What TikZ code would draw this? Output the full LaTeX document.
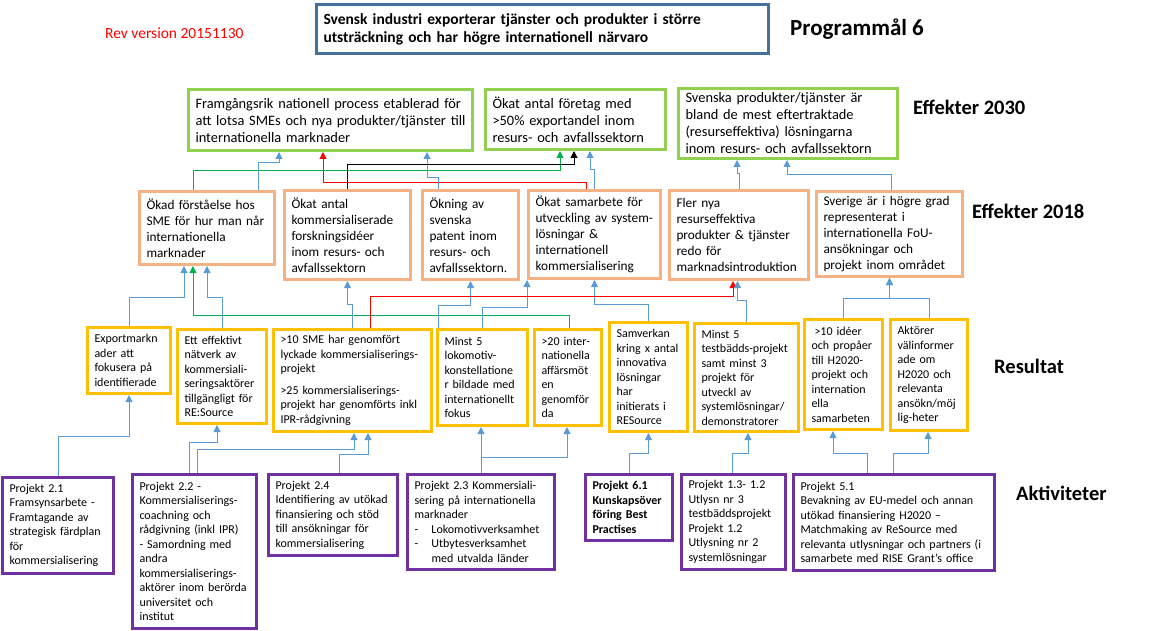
\documentclass[tikz,border=0pt]{standalone}
\usepackage{fontspec}
\setmainfont{Carlito}
\usepackage{tikz}
\usetikzlibrary{arrows.meta}
\definecolor{goalblue}{HTML}{41719C}
\definecolor{effgreen}{HTML}{92D050}
\definecolor{efforange}{HTML}{F4B183}
\definecolor{resgold}{HTML}{FFC000}
\definecolor{aktpurple}{HTML}{7030A0}
\definecolor{linkblue}{HTML}{5B9BD5}
\definecolor{linkgreen}{HTML}{00B050}
\hyphenpenalty=10000
\exhyphenpenalty=10000

\begin{document}
\begin{tikzpicture} [x=1pt, y=-1pt,
    box/.style={draw, line width=3pt, anchor=north west, align=left, inner xsep=7pt, inner ysep=1pt},
    goal/.style={box, draw=goalblue, font=\bfseries\fontsize{15.5}{18}\selectfont},
    eff30/.style={box, draw=effgreen, font=\fontsize{14.4}{17}\selectfont},
    eff18/.style={box, draw=efforange, font=\fontsize{13.3}{16}\selectfont},
    res/.style={box, draw=resgold, font=\fontsize{12}{14.5}\selectfont},
    akt/.style={box, draw=aktpurple, font=\fontsize{12}{14.5}\selectfont},
    lbl/.style={anchor=west, inner sep=0pt, font=\bfseries\fontsize{20.5}{24}\selectfont},
    link/.style={draw=linkblue, line width=1pt, -{Triangle[width=7pt,length=7pt]}}]

        \useasboundingbox (0,0) rectangle (1162,631);

        \node (rev) [anchor=west, inner sep=0pt, text=red, font=\fontsize{15.5}{18}\selectfont] at (105,33) {Rev version 20151130};
        \node (goal) [goal, minimum width=452pt, minimum height=49pt, text width=438pt] at (315,3)
            {Svensk industri exporterar tjänster och produkter i större\\utsträckning och har högre internationell närvaro};
        \node (pm6) [lbl, font=\bfseries\fontsize{23}{26}\selectfont] at (790,29) {Programmål 6};

        \node (g1) [eff30, minimum width=284pt, minimum height=61pt, text width=270pt] at (187,88)
            {Framgångsrik nationell process etablerad för\\att lotsa SMEs och nya produkter/tjänster till\\internationella marknader};
        \node (g2) [eff30, minimum width=180pt, minimum height=60pt, text width=166pt] at (484,88)
            {Ökat antal företag med\\>50\% exportandel inom\\resurs- och avfallssektorn};
        \node (g3) [eff30, minimum width=219pt, minimum height=70pt, text width=205pt] at (677,87)
            {Svenska produkter/tjänster är\\bland de mest eftertraktade\\(resurseffektiva) lösningarna\\inom resurs- och avfallssektorn};
        \node (l30) [lbl] at (913,107) {Effekter 2030};

        \node (o1) [eff18, minimum width=135pt, minimum height=73pt, text width=121pt] at (138,190)
            {Ökad förståelse hos\\SME för hur man når\\internationella\\marknader};
        \node (o2) [eff18, minimum width=126pt, minimum height=89pt, text width=112pt] at (283,189)
            {Ökat antal\\kommersialiserade\\forskningsidéer\\inom resurs- och\\avfallssektorn};
        \node (o3) [eff18, minimum width=96pt, minimum height=89pt, text width=82pt] at (421,189)
            {Ökning av\\svenska\\patent inom\\resurs- och\\avfallssektorn.};
        \node (o4) [eff18, minimum width=132pt, minimum height=88pt, text width=118pt] at (527,189)
            {Ökat samarbete för\\utveckling av system-\\lösningar \&\\internationell\\kommersialisering};
        \node (o5) [eff18, minimum width=139pt, minimum height=89pt, text width=125pt] at (668,189)
            {Fler nya\\resurseffektiva\\produkter \& tjänster\\redo för\\marknadsintroduktion};
        \node (o6) [eff18, minimum width=146pt, minimum height=85pt, text width=132pt] at (815,190)
            {Sverige är i högre grad\\representerat i\\internationella FoU-\\ansökningar och\\projekt inom området};
        \node (l18) [lbl] at (972,211) {Effekter 2018};

        \node (r1) [res, minimum width=83pt, minimum height=66pt, text width=69pt] at (86,326)
            {Exportmarkn\\ader att\\fokusera på\\identifierade};
        \node (r2) [res, minimum width=89pt, minimum height=94pt, text width=75pt] at (176,328)
            {Ett effektivt\\nätverk av\\kommersiali-\\seringsaktörer\\tillgängligt för\\RE:Source};
        \node (r3) [res, minimum width=158pt, minimum height=102pt, text width=144pt] at (272,328)
            {>10 SME har genomfört\\lyckade kommersialiserings-\\projekt\\[7pt]>25 kommersialiserings-\\projekt har genomförts inkl\\IPR-rådgivning};
        \node (r4) [res, minimum width=90pt, minimum height=96pt, text width=76pt] at (436,328)
            {Minst 5\\lokomotiv-\\konstellatione\\r bildade med\\internationellt\\fokus};
        \node (r5) [res, minimum width=67pt, minimum height=96pt, text width=53pt] at (533,328)
            {>20 inter-\\nationella\\affärsmöt\\en\\genomför\\da};
        \node (r6) [res, minimum width=78pt, minimum height=109pt, text width=64pt] at (608,321)
            {Samverkan\\kring x antal\\innovativa\\lösningar\\har\\initierats i\\RESource};
        \node (r7) [res, minimum width=104pt, minimum height=108pt, text width=90pt] at (693,322)
            {Minst 5\\testbädds-projekt\\samt minst 3\\projekt för\\utveckl av\\systemlösningar/\\demonstratorer};
        \node (r8) [res, minimum width=78pt, minimum height=110pt, text width=64pt] at (803,318)
            {\hspace*{3pt}>10 idéer\\och propåer\\till H2020-\\projekt och\\internation\\ella\\samarbeten};
        \node (r9) [res, minimum width=77pt, minimum height=111pt, text width=63pt] at (889,318)
            {Aktörer\\välinformer\\ade om\\H2020 och\\relevanta\\ansökn/möj\\lig-heter};
        \node (lres) [lbl] at (994,366) {Resultat};

        \node (p21) [akt, minimum width=111pt, minimum height=96pt, text width=97pt] at (1,476)
            {Projekt 2.1\\Framsynsarbete -\\Framtagande av\\strategisk färdplan\\för\\kommersialisering};
        \node (p22) [akt, minimum width=124pt, minimum height=154pt, text width=110pt] at (131,473)
            {Projekt 2.2 -\\Kommersialiserings-\\coachning och\\rådgivning (inkl IPR)\\- Samordning med\\andra\\kommersialiserings-\\aktörer inom berörda\\universitet och\\institut};
        \node (p24) [akt, minimum width=129pt, minimum height=81pt, text width=115pt] at (267,473)
            {Projekt 2.4\\Identifiering av utökad\\finansiering och stöd\\till ansökningar för\\kommersialisering};
        \node (p23) [akt, minimum width=147pt, minimum height=95pt, text width=133pt] at (406,473)
            {Projekt 2.3 Kommersiali-\\sering på internationella\\marknader\\\makebox[17pt][l]{-}Lokomotivverksamhet\\\makebox[17pt][l]{-}Utbytesverksamhet\\\hspace*{17pt}med utvalda länder};
        \node (p61) [akt, minimum width=87pt, minimum height=66pt, text width=73pt, font=\bfseries\fontsize{12}{14.5}\selectfont] at (584,473)
            {Projekt 6.1\\Kunskapsöver\\föring Best\\Practises};
        \node (p13) [akt, minimum width=104pt, minimum height=95pt, text width=90pt] at (680,473)
            {Projekt 1.3- 1.2\\Utlysn nr 3\\testbäddsprojekt\\Projekt 1.2\\Utlysning nr 2\\systemlösningar};
        \node (p51) [akt, minimum width=201pt, minimum height=96pt, text width=187pt] at (792,473)
            {Projekt 5.1\\Bevakning av EU-medel och annan\\utökad finansiering H2020 –\\Matchmaking av ReSource med\\relevanta utlysningar och partners (i\\samarbete med RISE Grant’s office};
        \node (lakt) [lbl] at (1016,493) {Aktiviteter};

        \draw [link] ([xshift=51pt]o1.north) -- ++(0,-27) -| ([xshift=-51.5pt]g1.south);
        \draw [link, draw=red] ([xshift=-8.5pt]o4.north) -- ++(0,-6) -| ([xshift=-7.5pt]g1.south);
        \draw [link] ([xshift=-32.5pt]o3.north) -- ++(0,-11) -| ([xshift=96.5pt]g1.south);
        \draw [link, draw=linkgreen] ([xshift=-14pt]o1.north) -- ++(0,-19) -| ([xshift=-15.5pt]g2.south);
        \draw [link, draw=black] (o2.north) -- ++(0,-24) -| ([xshift=-1.5pt]g2.south);
        \draw [link] (o4.north) -- ++(0,-19) -| ([xshift=14.5pt]g2.south);
        \draw [link] (o5.north) -- ++(0,-15) -| ([xshift=-51pt]g3.south);
        \draw [link] ([xshift=1.5pt]o6.north) -- ++(0,-15) -| ([xshift=-1pt]g3.south);

        \draw [link] (r1.north) -- ++(0,-29) -| ([xshift=-23pt]o1.south);
        \draw [link, draw=linkgreen] ([xshift=1pt]r5.north) -- ++(0,-13) -| ([xshift=-14pt]o1.south);
        \draw [link] (r2.north) -- ++(0,-31) -| (o1.south);
        \draw [link] (r3.north) -- ++(0,-24) -| (o2.south);
        \draw [link] ([xshift=-44.5pt]r4.north) -- ++(0,-23) -| (o3.south);
        \draw [link] (r4.north) -- ++(0,-21) -| ([xshift=-67.5pt]o4.south);
        \draw [link] (r6.north) -- ++(0,-17) -| (o4.south);
        \draw [link, draw=red] ([xshift=17.5pt]r3.north) -- ++(0,-32) -| ([xshift=-6pt]o5.south);
        \draw [link] (r7.north) -- ++(0,-22) -| ([xshift=-1.5pt]o5.south);
        \draw [link] (r8.north) -- ++(0,-20) -| (o6.south);
        \draw [link] (r9.north) -- ++(0,-20) -| (o6.south);

        \draw [link] (p21.north) -- ++(0,-40) -| (r1.south);
        \draw [link] ([xshift=-5.5pt]p22.north) -- ++(0,-31) -| ([xshift=-5pt]r2.south);
        \draw [link] ([xshift=2.5pt]p22.north) -- ++(0,-24) -| ([xshift=1.5pt]r3.south);
        \draw [link] ([xshift=6pt]p24.north) -- ++(0,-19) -| ([xshift=15.5pt]r3.south);
        \draw [link] (p23.north) -- (p23.north |- r4.south);
        \draw [link] (p23.north) -- ++(0,-16) -| ([xshift=-1pt]r5.south);
        \draw [link] (p61.north) -- ++(0,-20) -| (r6.south);
        \draw [link] ([xshift=-1.5pt]p13.north) -- ++(0,-20) -| ([xshift=1.5pt]r7.south);
        \draw [link] ([xshift=-27pt]p51.north) -- ++(0,-20) -| ([xshift=-10.5pt]r8.south);
        \draw [link] ([xshift=-1pt]p51.north) -- ++(0,-20) -| ([xshift=-1pt]r9.south);
    \end{tikzpicture}
\end{document}
